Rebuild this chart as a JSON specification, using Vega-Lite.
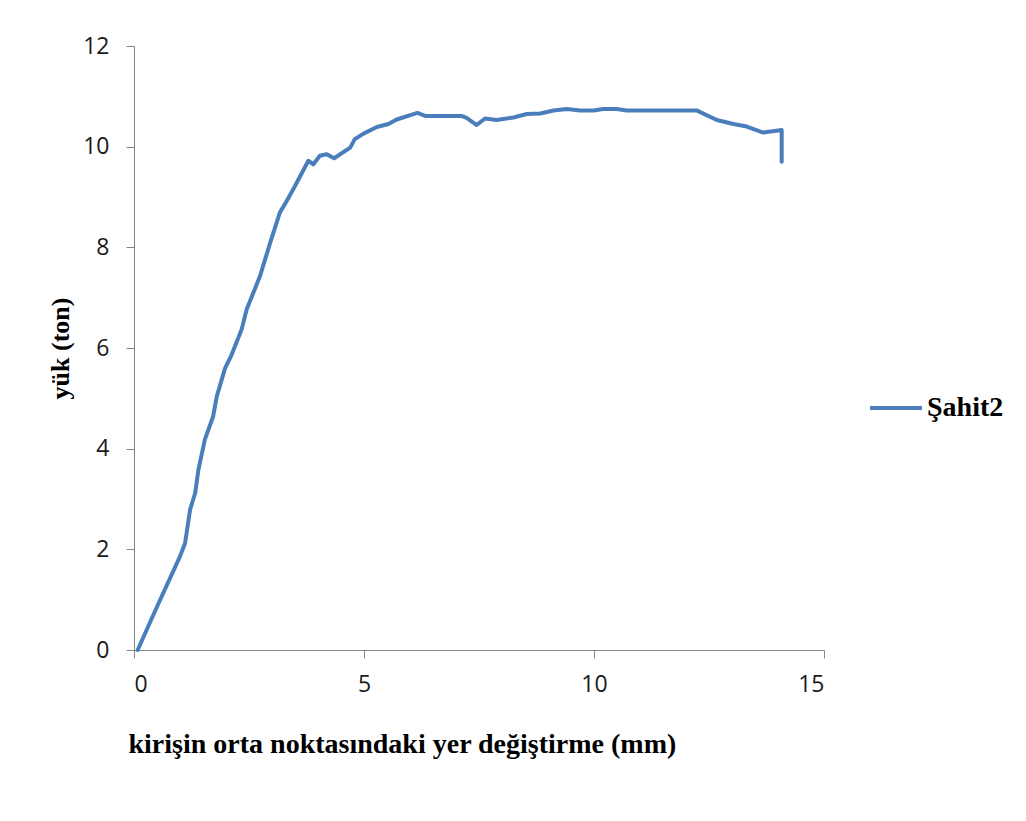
{
  "$schema": "https://vega.github.io/schema/vega-lite/v6.json",
  "width": 690,
  "height": 604,
  "autosize": "none",
  "padding": {"left": 134, "top": 46, "right": 202, "bottom": 171},
  "background": "white",
  "config": {
    "view": {"stroke": null},
    "axis": {"grid": false, "domainColor": "#868686", "tickColor": "#868686", "tickSize": 8, "labelFont": "Open Sans", "labelFontSize": 23, "labelColor": "#1a1a1a", "titleFont": "Liberation Serif", "titleFontWeight": "bold", "titleFontSize": 26, "titleColor": "#000000"}
  },
  "data": {
    "values": [
      {"i": 0, "x": 0.08, "y": 0, "s": "Şahit2"},
      {"i": 1, "x": 0.5, "y": 0.86, "s": "Şahit2"},
      {"i": 2, "x": 1.0, "y": 1.86, "s": "Şahit2"},
      {"i": 3, "x": 1.11, "y": 2.12, "s": "Şahit2"},
      {"i": 4, "x": 1.22, "y": 2.79, "s": "Şahit2"},
      {"i": 5, "x": 1.33, "y": 3.12, "s": "Şahit2"},
      {"i": 6, "x": 1.40, "y": 3.58, "s": "Şahit2"},
      {"i": 7, "x": 1.54, "y": 4.18, "s": "Şahit2"},
      {"i": 8, "x": 1.72, "y": 4.64, "s": "Şahit2"},
      {"i": 9, "x": 1.80, "y": 5.04, "s": "Şahit2"},
      {"i": 10, "x": 1.98, "y": 5.6, "s": "Şahit2"},
      {"i": 11, "x": 2.12, "y": 5.86, "s": "Şahit2"},
      {"i": 12, "x": 2.34, "y": 6.37, "s": "Şahit2"},
      {"i": 13, "x": 2.45, "y": 6.77, "s": "Şahit2"},
      {"i": 14, "x": 2.74, "y": 7.43, "s": "Şahit2"},
      {"i": 15, "x": 2.96, "y": 8.09, "s": "Şahit2"},
      {"i": 16, "x": 3.17, "y": 8.69, "s": "Şahit2"},
      {"i": 17, "x": 3.32, "y": 8.92, "s": "Şahit2"},
      {"i": 18, "x": 3.5, "y": 9.22, "s": "Şahit2"},
      {"i": 19, "x": 3.79, "y": 9.72, "s": "Şahit2"},
      {"i": 20, "x": 3.90, "y": 9.65, "s": "Şahit2"},
      {"i": 21, "x": 4.04, "y": 9.82, "s": "Şahit2"},
      {"i": 22, "x": 4.19, "y": 9.85, "s": "Şahit2"},
      {"i": 23, "x": 4.35, "y": 9.77, "s": "Şahit2"},
      {"i": 24, "x": 4.70, "y": 9.98, "s": "Şahit2"},
      {"i": 25, "x": 4.80, "y": 10.15, "s": "Şahit2"},
      {"i": 26, "x": 4.99, "y": 10.26, "s": "Şahit2"},
      {"i": 27, "x": 5.28, "y": 10.39, "s": "Şahit2"},
      {"i": 28, "x": 5.53, "y": 10.45, "s": "Şahit2"},
      {"i": 29, "x": 5.71, "y": 10.54, "s": "Şahit2"},
      {"i": 30, "x": 6.16, "y": 10.67, "s": "Şahit2"},
      {"i": 31, "x": 6.33, "y": 10.61, "s": "Şahit2"},
      {"i": 32, "x": 7.12, "y": 10.61, "s": "Şahit2"},
      {"i": 33, "x": 7.23, "y": 10.57, "s": "Şahit2"},
      {"i": 34, "x": 7.45, "y": 10.43, "s": "Şahit2"},
      {"i": 35, "x": 7.63, "y": 10.56, "s": "Şahit2"},
      {"i": 36, "x": 7.88, "y": 10.53, "s": "Şahit2"},
      {"i": 37, "x": 8.25, "y": 10.58, "s": "Şahit2"},
      {"i": 38, "x": 8.54, "y": 10.65, "s": "Şahit2"},
      {"i": 39, "x": 8.83, "y": 10.66, "s": "Şahit2"},
      {"i": 40, "x": 9.12, "y": 10.72, "s": "Şahit2"},
      {"i": 41, "x": 9.41, "y": 10.75, "s": "Şahit2"},
      {"i": 42, "x": 9.70, "y": 10.72, "s": "Şahit2"},
      {"i": 43, "x": 9.99, "y": 10.72, "s": "Şahit2"},
      {"i": 44, "x": 10.2, "y": 10.75, "s": "Şahit2"},
      {"i": 45, "x": 10.49, "y": 10.75, "s": "Şahit2"},
      {"i": 46, "x": 10.71, "y": 10.72, "s": "Şahit2"},
      {"i": 47, "x": 12.23, "y": 10.72, "s": "Şahit2"},
      {"i": 48, "x": 12.67, "y": 10.53, "s": "Şahit2"},
      {"i": 49, "x": 13.03, "y": 10.45, "s": "Şahit2"},
      {"i": 50, "x": 13.32, "y": 10.40, "s": "Şahit2"},
      {"i": 51, "x": 13.68, "y": 10.28, "s": "Şahit2"},
      {"i": 52, "x": 14.08, "y": 10.33, "s": "Şahit2"},
      {"i": 53, "x": 14.08, "y": 9.70, "s": "Şahit2"}
    ]
  },
  "mark": {"type": "line", "strokeWidth": 4, "strokeJoin": "round", "strokeCap": "round"},
  "encoding": {
    "x": {"field": "x", "type": "quantitative", "scale": {"domain": [0, 15], "nice": false}, "axis": {"values": [0, 5, 10, 15], "labelPadding": 15, "title": "kirişin orta noktasındaki yer değiştirme (mm)", "titleAnchor": "start", "titleAlign": "left", "titleX": -6, "titleY": 102, "titleBaseline": "alphabetic", "titleFontSize": 28}},
    "y": {"field": "y", "type": "quantitative", "scale": {"domain": [0, 12], "nice": false}, "axis": {"values": [0, 2, 4, 6, 8, 10, 12], "labelPadding": 17, "title": "yük (ton)", "titlePadding": 9}},
    "order": {"field": "i", "type": "quantitative"},
    "color": {"field": "s", "type": "nominal", "scale": {"range": ["#4a7ebb"]}, "legend": {"title": null, "orient": "none", "legendX": 734, "legendY": 334, "symbolType": "stroke", "symbolSize": 2704, "symbolStrokeWidth": 4, "labelFont": "Liberation Serif", "labelFontWeight": "bold", "labelFontSize": 28, "labelColor": "#000000", "labelOffset": 3}}
  }
}
